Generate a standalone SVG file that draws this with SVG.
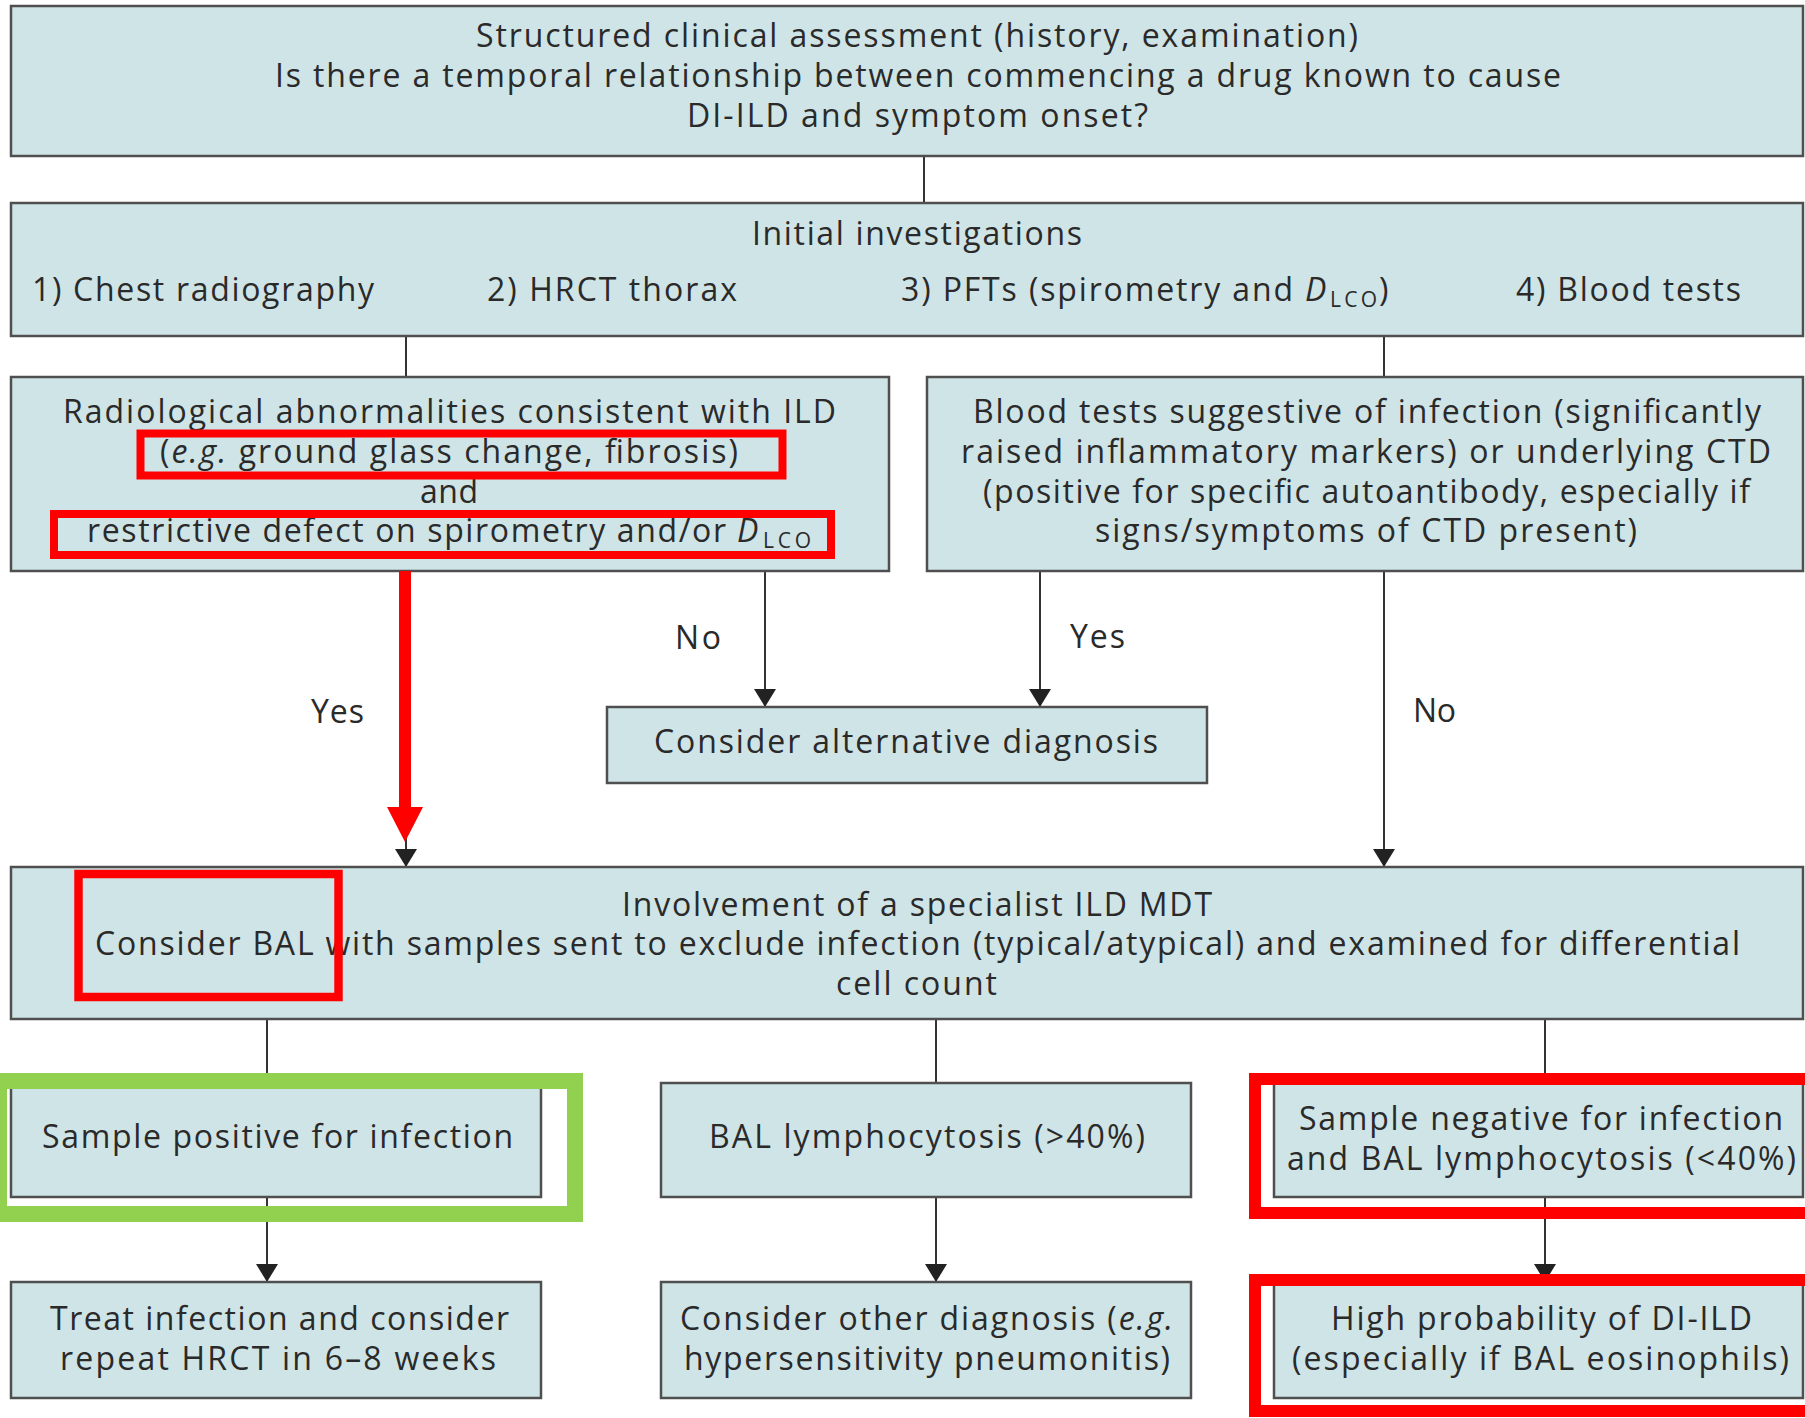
<svg xmlns="http://www.w3.org/2000/svg" width="1805" height="1418" viewBox="0 0 1805 1418">
<defs>
<style>
.box{fill:#cfe4e6;stroke:#4f4f4f;stroke-width:2.5}
.t{font-family:"Open Sans","Liberation Sans",sans-serif;font-size:32px;fill:#2a2a2a}
.sub{font-family:"Open Sans","Liberation Sans",sans-serif;font-size:21px;fill:#2a2a2a}
.it{font-style:italic}
.con{stroke:#333333;stroke-width:2;fill:none}
.arr{marker-end:url(#ah)}
.hl{fill:none;stroke:#ff0000}
</style>
<marker id="ah" viewBox="0 0 18 22" refX="18" refY="11" markerWidth="18" markerHeight="22" markerUnits="userSpaceOnUse" orient="auto">
<path d="M0,0 L18,11 L0,22 z" fill="#222222"/>
</marker>
</defs>
<rect width="1805" height="1418" fill="#ffffff"/>

<g id="connectors">
<line class="con" x1="924" y1="156" x2="924" y2="203"/>
<line class="con" x1="406" y1="336" x2="406" y2="377"/>
<line class="con" x1="1384" y1="336" x2="1384" y2="377"/>
<line class="con arr" x1="765" y1="571" x2="765" y2="707"/>
<line class="con arr" x1="1040" y1="571" x2="1040" y2="707"/>
<line class="con arr" x1="1384" y1="571" x2="1384" y2="867"/>
<line class="con arr" x1="406" y1="571" x2="406" y2="867"/>
<line class="con" x1="267" y1="1019" x2="267" y2="1083"/>
<line class="con" x1="936" y1="1019" x2="936" y2="1083"/>
<line class="con" x1="1545" y1="1019" x2="1545" y2="1083"/>
<line class="con arr" x1="267" y1="1197" x2="267" y2="1282"/>
<line class="con arr" x1="936" y1="1197" x2="936" y2="1282"/>
<line class="con arr" x1="1545" y1="1197" x2="1545" y2="1282"/>
<text class="t" x="675" y="649" textLength="46">No</text>
<text class="t" x="1070" y="648" textLength="55">Yes</text>
<text class="t" x="311" y="723" textLength="53">Yes</text>
<text class="t" x="1413" y="722" textLength="43">No</text>
</g>

<g id="n1">
<rect class="box" x="11" y="6" width="1792" height="150"/>
<text class="t" x="476" y="47" textLength="882">Structured clinical assessment (history, examination)</text>
<text class="t" x="275" y="87" textLength="1286">Is there a temporal relationship between commencing a drug known to cause</text>
<text class="t" x="687" y="127" textLength="461">DI-ILD and symptom onset?</text>
</g>

<g id="n2">
<rect class="box" x="11" y="203" width="1792" height="133"/>
<text class="t" x="752" y="245" textLength="330">Initial investigations</text>
<text class="t" x="32" y="301" textLength="342">1) Chest radiography</text>
<text class="t" x="487" y="301" textLength="250">2) HRCT thorax</text>
<text class="t" x="901" y="301" textLength="392">3) PFTs (spirometry and</text>
<text class="t it" x="1305" y="301">D</text>
<text class="sub" x="1330" y="307" textLength="47">LCO</text>
<text class="t" x="1379" y="301">)</text>
<text class="t" x="1516" y="301" textLength="225">4) Blood tests</text>
</g>

<g id="n3">
<rect class="box" x="11" y="377" width="878" height="194"/>
<text class="t" x="63" y="423" textLength="773">Radiological abnormalities consistent with ILD</text>
<text class="t" x="160" y="463" textLength="578">(<tspan class="it">e.g.</tspan> ground glass change, fibrosis)</text>
<text class="t" x="420" y="503" textLength="58">and</text>
<text class="t" x="87" y="542" textLength="639">restrictive defect on spirometry and/or</text>
<text class="t it" x="737" y="542">D</text>
<text class="sub" x="763" y="548" textLength="48">LCO</text>
</g>

<g id="n4">
<rect class="box" x="927" y="377" width="876" height="194"/>
<text class="t" x="973" y="423" textLength="788">Blood tests suggestive of infection (significantly</text>
<text class="t" x="961" y="463" textLength="810">raised inflammatory markers) or underlying CTD</text>
<text class="t" x="983" y="503" textLength="767">(positive for specific autoantibody, especially if</text>
<text class="t" x="1095" y="542" textLength="542">signs/symptoms of CTD present)</text>
</g>

<g id="n5">
<rect class="box" x="607" y="707" width="600" height="76"/>
<text class="t" x="654" y="753" textLength="504">Consider alternative diagnosis</text>
</g>

<g id="n6">
<rect class="box" x="11" y="867" width="1792" height="152"/>
<text class="t" x="622" y="916" textLength="590">Involvement of a specialist ILD MDT</text>
<text class="t" x="95" y="955" textLength="1645">Consider BAL with samples sent to exclude infection (typical/atypical) and examined for differential</text>
<text class="t" x="836" y="995" textLength="161">cell count</text>
</g>

<g id="n7">
<rect class="box" x="11" y="1083" width="530" height="114"/>
<text class="t" x="42" y="1148" textLength="471">Sample positive for infection</text>
</g>

<g id="n8">
<rect class="box" x="661" y="1083" width="530" height="114"/>
<text class="t" x="709" y="1148" textLength="436">BAL lymphocytosis (&gt;40%)</text>
</g>

<g id="n9">
<rect class="box" x="1274" y="1083" width="529" height="114"/>
<text class="t" x="1299" y="1130" textLength="484">Sample negative for infection</text>
<text class="t" x="1287" y="1170" textLength="509">and BAL lymphocytosis (&lt;40%)</text>
</g>

<g id="n10">
<rect class="box" x="11" y="1282" width="530" height="116"/>
<text class="t" x="50" y="1330" textLength="459">Treat infection and consider</text>
<text class="t" x="60" y="1370" textLength="436">repeat HRCT in 6–8 weeks</text>
</g>

<g id="n11">
<rect class="box" x="661" y="1282" width="530" height="116"/>
<text class="t" x="680" y="1330" textLength="493">Consider other diagnosis (<tspan class="it">e.g.</tspan></text>
<text class="t" x="684" y="1370" textLength="486">hypersensitivity pneumonitis)</text>
</g>

<g id="n12">
<rect class="box" x="1274" y="1282" width="529" height="116"/>
<text class="t" x="1331" y="1330" textLength="421">High probability of DI-ILD</text>
<text class="t" x="1292" y="1370" textLength="497">(especially if BAL eosinophils)</text>
</g>

<g id="highlights">
<rect class="hl" x="140.5" y="433.5" width="642" height="42" stroke-width="8"/>
<rect class="hl" x="54" y="514" width="777" height="41" stroke-width="8"/>
<line x1="405" y1="571" x2="405" y2="808" stroke="#ff0000" stroke-width="12"/>
<polygon points="387,807 423,807 405,842" fill="#ff0000"/>
<rect class="hl" x="78.5" y="874" width="260" height="123" stroke-width="8.5"/>
<rect x="-1" y="1081" width="576" height="133" fill="none" stroke="#92d050" stroke-width="16"/>
<rect class="hl" x="1255" y="1079" width="570" height="134" stroke-width="12"/>
<rect class="hl" x="1255" y="1280" width="570" height="131" stroke-width="12"/>
</g>
</svg>
